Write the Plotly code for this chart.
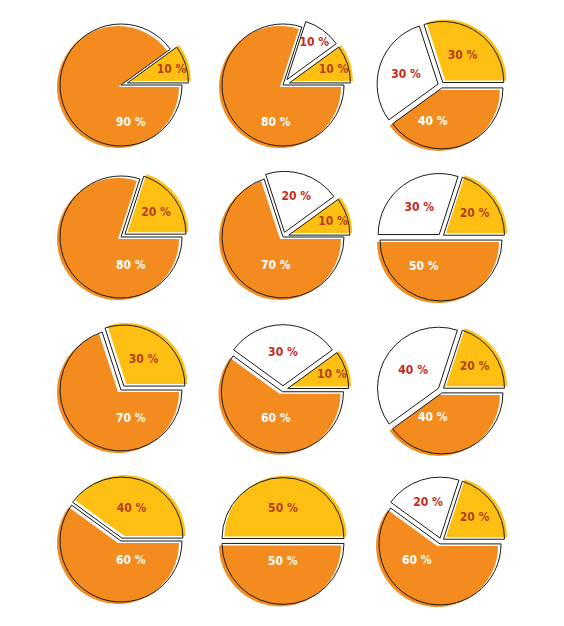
import math
import plotly.graph_objects as go

# ---- data (percent values per chart, row by row) ----
yellow_pct = [10, 10, 30, 20, 10, 20, 30, 10, 20, 40, 50, 20]
white_pct = [0, 10, 30, 0, 20, 30, 0, 30, 40, 0, 0, 20]
orange_pct = [90, 80, 40, 80, 70, 50, 70, 60, 40, 60, 50, 60]

# ---- styles ----
pull_yellow = [0.11, 0.11, 0.05, 0.08, 0.10, 0.05, 0.08, 0.08, 0.05, 0.05, 0.04, 0.05]
pull_white = [0, 0.11, 0.05, 0, 0.08, 0.05, 0, 0.07, 0.05, 0, 0, 0.05]
pull_orange = [0, 0, 0.05, 0, 0, 0.05, 0, 0.03, 0.05, 0, 0.04, 0.05]

PAD = 8  # page offset of the plot inside the browser window
W, H = 564 - PAD, 626 - PAD
col_x = [121, 283, 441]
row_y = [85, 237, 390, 541]
R = 61

ORANGE = "#F38B1F"
YELLOW = "#FDC012"
CLEAR = "rgba(0,0,0,0)"
TXT_ON = {"Y": "#B3401A", "W": "#C42A1C", "O": "#FFFFFF"}
FILL_SHIFT = {"Y": (2.5, -2.0), "O": (-3.0, 2.0)}
FONT = "DejaVu Sans Condensed, DejaVu Sans"
FSIZE = 12

fig = go.Figure()
annotations = []

for k in range(12):
    cx = col_x[k % 3] - PAD
    cy = row_y[k // 3] - PAD
    keys, vals, pulls = [], [], []
    for key, arr, pl in (("Y", yellow_pct, pull_yellow), ("W", white_pct, pull_white), ("O", orange_pct, pull_orange)):
        if arr[k] > 0:
            keys.append(key)
            vals.append(arr[k])
            pulls.append(pl[k])
    s = R * (1 + max(pulls))
    labels = [f"{key}{k}" for key in keys]
    total = sum(vals)

    def dom(dx=0.0, dy=0.0):
        return dict(
            x=[(cx + dx - s) / W, (cx + dx + s) / W],
            y=[1 - (cy + dy + s) / H, 1 - (cy + dy - s) / H],
        )

    # first (yellow) slice starts at 3 o'clock and runs counterclockwise
    rot = 90 - 360 * vals[0] / total
    common = dict(
        labels=labels, values=vals, pull=pulls, sort=False,
        direction="counterclockwise", rotation=rot,
        hoverinfo="skip", showlegend=False,
    )
    # offset colour fills
    for key in ("Y", "O"):
        if key not in keys:
            continue
        cols = [(YELLOW if key == "Y" else ORANGE) if kk == key else CLEAR for kk in keys]
        dx, dy = FILL_SHIFT[key]
        fig.add_trace(go.Pie(
            **common, domain=dom(dx, dy), textinfo="none",
            marker=dict(colors=cols, line=dict(width=0)),
        ))
    # outline + labels (orange label placed in the lower part of the slice)
    texts = ["" if kk == "O" else f"{v} %" for kk, v in zip(keys, vals)]
    fig.add_trace(go.Pie(
        **common, domain=dom(),
        marker=dict(colors=["#FFFFFF" if kk == "W" else CLEAR for kk in keys],
                    line=dict(color="#1a1a1a", width=1)),
        text=texts, textinfo="text", textposition="inside",
        insidetextorientation="horizontal",
        textfont=dict(family=FONT, size=FSIZE, weight="bold",
                      color=[TXT_ON[kk] for kk in keys]),
    ))
    start = 360 * (total - orange_pct[k]) / total
    mid = (start + 360) / 2
    ang = math.radians(min(max(mid, 255), 290))
    rr = 0.47 * R
    px = cx + rr * math.cos(ang)
    py = cy - rr * math.sin(ang)
    annotations.append(dict(
        x=px / W, y=1 - py / H, xref="paper", yref="paper",
        text=f"{orange_pct[k]} %", showarrow=False,
        font=dict(family=FONT, size=FSIZE, weight="bold", color=TXT_ON["O"]),
    ))

fig.update_layout(
    width=W, height=H, margin=dict(l=0, r=0, t=0, b=0),
    paper_bgcolor="white", plot_bgcolor="white",
    uniformtext=dict(minsize=FSIZE, mode="show"),
    annotations=annotations,
)
fig.write_html("out.html")
